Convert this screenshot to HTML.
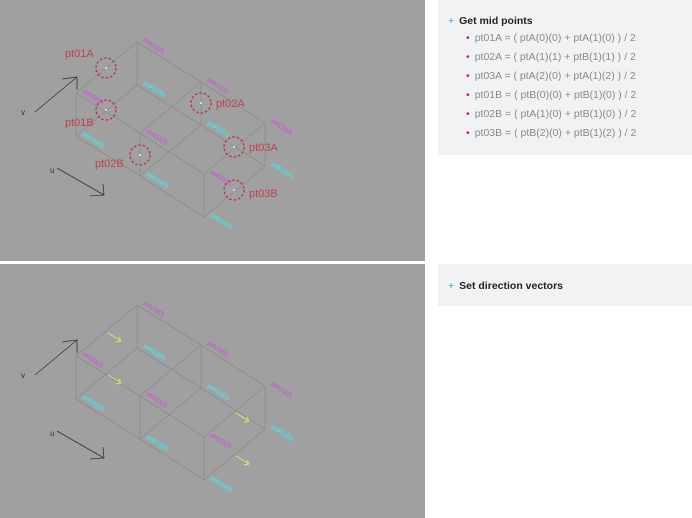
<!DOCTYPE html>
<html><head><meta charset="utf-8"><style>
body{margin:0;width:692px;height:518px;background:#fff;overflow:hidden;font-family:"Liberation Sans",sans-serif}
.box{position:absolute;left:438px;width:254px;background:#f1f2f4}
.h{font-weight:bold;font-size:10.5px;color:#222;position:absolute;left:10px}
.h:before{content:"+";color:#3aa0d0;margin-right:5px;font-weight:normal}
ul{position:absolute;left:28px;top:32px;margin:0;padding:0;list-style:none;font-size:10.5px;color:#8a8a8a}
li{height:19px}
li:before{content:"•";color:#d02070;margin-right:5px}
</style></head><body>
<svg width="692" height="518" style="position:absolute;left:0;top:0">
<defs>
<g id="cube" fill="none" stroke="#8c8c8c" stroke-width="0.8">
<polyline points="76,93 140,133 204,174"/><polyline points="137,42 201,82 265,123"/>
<line x1="76" y1="93" x2="137" y2="42"/><line x1="140" y1="133" x2="201" y2="82"/><line x1="204" y1="174" x2="265" y2="123"/>
<polyline points="76,136 140,176 204,217"/><polyline points="137,85 201,125 265,166"/>
<line x1="76" y1="136" x2="137" y2="85"/><line x1="140" y1="176" x2="201" y2="125"/><line x1="204" y1="217" x2="265" y2="166"/>
<line x1="76" y1="93" x2="76" y2="136"/><line x1="140" y1="133" x2="140" y2="176"/><line x1="204" y1="174" x2="204" y2="217"/>
<line x1="137" y1="42" x2="137" y2="85"/><line x1="201" y1="82" x2="201" y2="125"/><line x1="265" y1="123" x2="265" y2="166"/>
<g stroke="#333" stroke-width="0.8"><line x1="35" y1="112" x2="77" y2="77"/><polyline points="62,79 77,77 77,90"/>
<line x1="57" y1="168" x2="104" y2="195"/><polyline points="90,196 104,195 103,184"/></g>
</g>
<g id="lbl" font-size="6" font-family="Liberation Sans">
<g fill="#d040e0">
<text transform="translate(143,41) rotate(32)">ptA(1)(0)</text>
<text transform="translate(207,81) rotate(32)">ptA(1)(1)</text>
<text transform="translate(271,122) rotate(32)">ptA(1)(2)</text>
<text transform="translate(82,92) rotate(32)">ptA(0)(0)</text>
<text transform="translate(146,132) rotate(32)">ptA(1)(0)</text>
<text transform="translate(210,173) rotate(32)">ptA(2)(0)</text>
</g>
<g fill="#50e0e0" font-weight="bold">
<text transform="translate(143,84) rotate(32)">ptB(1)(0)</text>
<text transform="translate(207,124) rotate(32)">ptB(1)(1)</text>
<text transform="translate(271,165) rotate(32)">ptB(1)(2)</text>
<text transform="translate(82,135) rotate(32)">ptB(0)(0)</text>
<text transform="translate(146,175) rotate(32)">ptB(1)(0)</text>
<text transform="translate(210,216) rotate(32)">ptB(2)(0)</text>
</g>
<g fill="#333" font-size="8"><text x="21" y="115">v</text><text x="50" y="173">u</text></g>
</g>
</defs>
<rect x="0" y="0" width="425" height="261" fill="#a0a0a0"/>
<rect x="0" y="264" width="425" height="254" fill="#a0a0a0"/>
<use href="#cube"/><use href="#lbl"/>
<g transform="translate(0,263)"><use href="#cube"/><use href="#lbl"/></g>
<g fill="none" stroke="#b83040" stroke-width="1.3" stroke-dasharray="2.5,2">
<circle cx="106" cy="68" r="10"/><circle cx="106" cy="110" r="10"/><circle cx="201" cy="103" r="10"/>
<circle cx="140" cy="155" r="10"/><circle cx="234" cy="147" r="10"/><circle cx="234" cy="190" r="10"/>
</g>
<g fill="#eee"><circle cx="106" cy="68" r="1"/><circle cx="106" cy="110" r="1"/><circle cx="201" cy="103" r="1"/><circle cx="140" cy="155" r="1"/><circle cx="234" cy="147" r="1"/><circle cx="234" cy="190" r="1"/></g>
<g fill="#c04050" font-size="11" font-family="Liberation Sans">
<text x="65" y="57">pt01A</text><text x="65" y="126">pt01B</text><text x="216" y="107">pt02A</text>
<text x="95" y="167">pt02B</text><text x="249" y="151">pt03A</text><text x="249" y="197">pt03B</text>
</g>
<g stroke="#e8e070" stroke-width="0.9" fill="none">
<line x1="108" y1="333" x2="121" y2="341"/><polyline points="116,342 121,341 119,337"/>
<line x1="108" y1="375" x2="121" y2="383"/><polyline points="116,384 121,383 119,379"/>
<line x1="236" y1="413" x2="249" y2="421"/><polyline points="244,422 249,421 247,417"/>
<line x1="236" y1="456" x2="249" y2="464"/><polyline points="244,465 249,464 247,460"/>
</g>
</svg>
<div class="box" style="top:0;height:155px"><div class="h" style="top:15px">Get mid points</div>
<ul><li>pt01A = ( ptA(0)(0) + ptA(1)(0) ) / 2</li><li>pt02A = ( ptA(1)(1) + ptB(1)(1) ) / 2</li><li>pt03A = ( ptA(2)(0) + ptA(1)(2) ) / 2</li><li>pt01B = ( ptB(0)(0) + ptB(1)(0) ) / 2</li><li>pt02B = ( ptA(1)(0) + ptB(1)(0) ) / 2</li><li>pt03B = ( ptB(2)(0) + ptB(1)(2) ) / 2</li></ul></div>
<div class="box" style="top:264px;height:42px"><div class="h" style="top:16px">Set direction vectors</div></div>
</body></html>
